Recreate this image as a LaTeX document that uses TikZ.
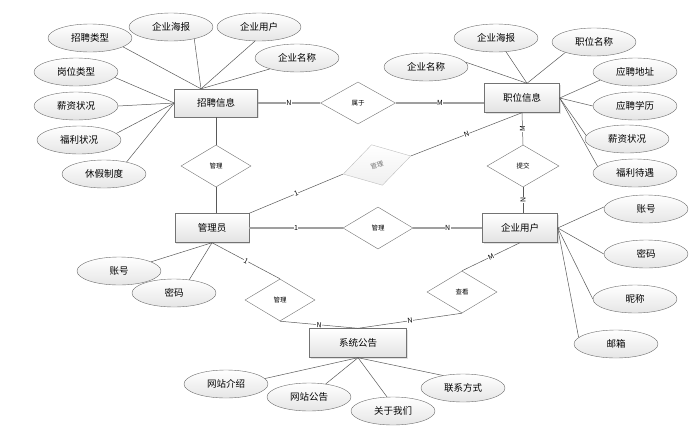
\documentclass[tikz,border=0pt]{standalone}
\usepackage{fontspec}
\setmainfont{Noto Sans CJK SC}
\usetikzlibrary{shapes.geometric, shadows}

\tikzset{
  entity/.style={rectangle, draw=gray!90!black, top color=white, bottom color=gray!22,
    minimum width=75pt, minimum height=29pt, inner sep=0pt,
    drop shadow={shadow xshift=1pt, shadow yshift=-1pt, fill=gray!45},
    font=\fontsize{9.5}{11}\selectfont},
  attr/.style={ellipse, draw=gray!85!black, top color=white, bottom color=gray!20,
    minimum width=84pt, minimum height=28pt, inner sep=0pt,
    font=\fontsize{9.5}{11}\selectfont},
  rel/.style={diamond, draw=gray!90!black, fill=white, minimum width=70pt,
    minimum height=42pt, inner sep=0pt, font=\fontsize{6.5}{7}\selectfont},
  lbl/.style={fill=white, inner sep=0.4pt, font=\fontsize{7}{7}\selectfont},
  link/.style={draw=black!65, line width=0.5pt},
  bond/.style={draw=gray!75, line width=1.3pt}
}

\begin{document}
\begin{tikzpicture}[x=1pt, y=-1pt]
	\useasboundingbox (0,0) rectangle (699,437);
	% Entities
	\node[entity, minimum width=83pt, minimum height=28pt] (recruit) at (216,103) {招聘信息};
	\node[entity] (job) at (522,98) {职位信息};
	\node[entity, minimum width=74pt] (admin) at (212,228) {管理员};
	\node[entity] (company) at (520,228) {企业用户};
	\node[entity, minimum width=97pt] (notice) at (358,343) {系统公告};
	% Relations
	\node[rel, minimum width=75pt] (belong) at (358,103) {属于};
	\node[rel] (manage1) at (216,166) {管理};
	\node[rel, rotate=15, draw=gray!50, top color=white, bottom color=gray!12, text=black!55] (manage2) at (377,165) {管理};
	\node[rel, minimum width=72pt] (submit) at (523,166) {提交};
	\node[rel] (manage3) at (378,228) {管理};
	\node[rel] (view) at (462,292) {查看};
	\node[rel] (manage4) at (280,300) {管理};
	% Attributes of recruit
	\node[attr] (r1) at (90,38) {招聘类型};
	\node[attr] (r2) at (171,27) {企业海报};
	\node[attr] (r3) at (259,27) {企业用户};
	\node[attr] (r4) at (297,58) {企业名称};
	\node[attr] (r5) at (76,72) {岗位类型};
	\node[attr] (r6) at (76,106) {薪资状况};
	\node[attr] (r7) at (79,140) {福利状况};
	\node[attr] (r8) at (104,174) {休假制度};
	% Attributes of job
	\node[attr] (j1) at (426,67) {企业名称};
	\node[attr] (j2) at (496,38) {企业海报};
	\node[attr] (j3) at (594,42) {职位名称};
	\node[attr] (j4) at (635,72) {应聘地址};
	\node[attr] (j5) at (635,106) {应聘学历};
	\node[attr] (j6) at (627,139) {薪资状况};
	\node[attr] (j7) at (635,173) {福利待遇};
	% Attributes of company
	\node[attr] (c1) at (646,209) {账号};
	\node[attr] (c2) at (646,254) {密码};
	\node[attr] (c3) at (635,299) {昵称};
	\node[attr] (c4) at (616,344) {邮箱};
	% Attributes of admin
	\node[attr] (a1) at (119,271) {账号};
	\node[attr] (a2) at (174,293) {密码};
	% Attributes of notice
	\node[attr] (n1) at (226,384) {网站介绍};
	\node[attr] (n2) at (309,397) {网站公告};
	\node[attr] (n3) at (393,411) {关于我们};
	\node[attr] (n4) at (463,388) {联系方式};
	% Meeting points
	\coordinate (rtop) at ([xshift=-15pt]recruit.north);
	\coordinate (jtop) at ([xshift=5pt]job.north);
	% Attribute lines
	\draw[link] (r1.-15) -- (rtop);
	\draw[link] (r2.-27) -- (rtop);
	\draw[link] (r3.-106) -- (rtop);
	\draw[link] (r4.-158) -- (rtop);
	\draw[link] (r5.-8) -- (recruit.west);
	\draw[link] (r6.east) -- (recruit.west);
	\draw[link] (r7.10) -- (recruit.west);
	\draw[link] (r8.28) -- (recruit.west);
	\draw[link] (j1.7) -- (jtop);
	\draw[link] (j2.-54) -- (jtop);
	\draw[link] (j3.-160) -- (jtop);
	\draw[link] (j4.-167) -- (job.east);
	\draw[link] (j5.west) -- (job.east);
	\draw[link] (j6.175) -- (job.east);
	\draw[link] (j7.170) -- (job.east);
	\draw[link] (c1.177) -- (company.east);
	\draw[link] (c2.west) -- (company.east);
	\draw[link] (c3.west) -- (company.east);
	\draw[link] (c4.170) -- (company.east);
	\draw[link] (a1.16) -- (admin.south);
	\draw[link] (a2.41) -- (admin.south);
	\draw[link] (n1.8) -- (notice.south);
	\draw[link] (n2.38) -- (notice.south);
	\draw[link] (n3.113) -- (notice.south);
	\draw[link] (n4.148) -- (notice.south);
	% Relation lines
	\draw[bond] (recruit.east) -- node[lbl]{N} (belong.west);
	\draw[bond] (belong.east) -- node[lbl]{M} (belong.east -| job.west);
	\draw[bond] (admin.east) -- node[lbl]{1} (manage3.west);
	\draw[bond] (manage3.east) -- node[lbl]{N} (company.west);
	\draw[link] (recruit.south) -- (manage1.north);
	\draw[link] (manage1.south) -- (manage1.south |- admin.north);
	\draw[link] (job.south) -- node[lbl, rotate=90]{M} (submit.north);
	\draw[link] (submit.south) -- node[lbl, rotate=90]{N} (submit.south |- company.north);
	\draw[link] (admin.north east) -- node[lbl, sloped]{1} (manage2.west);
	\draw[link] (manage2.east) -- node[lbl, sloped]{N} (job.south);
	\draw[link] (admin.south) -- node[lbl, sloped]{1} (manage4.north);
	\draw[link] (manage4.south) -- node[lbl, sloped]{N} (notice.north);
	\draw[link] (company.south) -- node[lbl, sloped]{M} (view.north);
	\draw[link] (view.south) -- node[lbl, sloped]{N} (notice.north);
\end{tikzpicture}
\end{document}
